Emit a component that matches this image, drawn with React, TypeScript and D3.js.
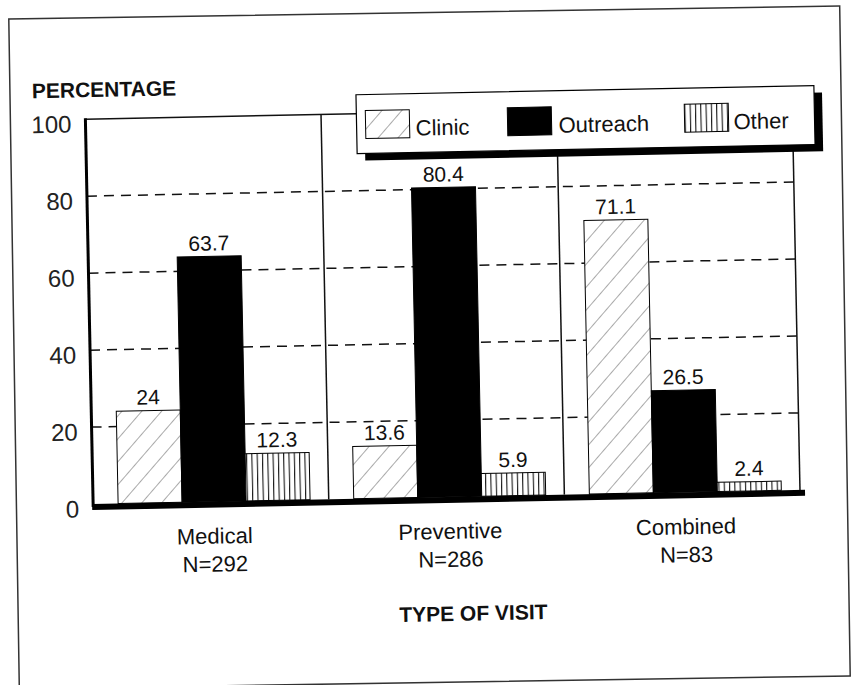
import React from "react";
import * as d3 from "d3";

const categories = ["Medical", "Preventive", "Combined"];
const sampleSizes = ["N=292", "N=286", "N=83"];
const seriesNames = ["Clinic", "Outreach", "Other"];
const clinicValues = [24, 13.6, 71.1];
const outreachValues = [63.7, 80.4, 26.5];
const otherValues = [12.3, 5.9, 2.4];
const yTicks = [0, 20, 40, 60, 80, 100];
const gridTicks = [20, 40, 60, 80];

const W = 851;
const H = 685;
const FONT = "'Liberation Sans', Arial, Helvetica, sans-serif";

const fills: Record<string, string> = {
  Clinic: "url(#hatchDiag)",
  Outreach: "#000",
  Other: "url(#hatchVert)",
};

export default function App() {
  const x0 = d3.scaleBand<string>().domain(categories).range([90, 797]).paddingInner(0).paddingOuter(0);
  const x1 = d3.scaleBand<string>().domain(seriesNames).range([0, 192]);
  const barOffset = 25;
  const y = d3.scaleLinear().domain([0, 100]).range([497, 112]);

  const seriesValues: Record<string, number[]> = {
    Clinic: clinicValues,
    Outreach: outreachValues,
    Other: otherValues,
  };

  const left = x0.range()[0];
  const right = x0.range()[1];

  const bars = categories.flatMap((c, ci) =>
    seriesNames.map((s) => ({
      c,
      s,
      v: seriesValues[s][ci],
      x: (x0(c) as number) + barOffset + (x1(s) as number),
      w: x1.bandwidth(),
    }))
  );

  const legendItems = [
    { s: "Clinic", sx: 370, tx: 420 },
    { s: "Outreach", sx: 512, tx: 563 },
    { s: "Other", sx: 689, tx: 738 },
  ];

  return (
    <svg
      width={W}
      height={H}
      style={{ position: "absolute", left: 0, top: 0, display: "block", background: "#fff" }}
      fontFamily={FONT}
    >
      <defs>
        <pattern id="hatchDiag" patternUnits="userSpaceOnUse" width={15} height={15} patternTransform="rotate(42)">
          <rect width={15} height={15} fill="#fff" />
          <line x1={0} y1={0} x2={0} y2={15} stroke="#555" strokeWidth={1} />
        </pattern>
        <pattern id="hatchVert" patternUnits="userSpaceOnUse" width={5.3} height={10}>
          <rect width={5.3} height={10} fill="#fff" />
          <line x1={0.6} y1={0} x2={0.6} y2={10} stroke="#000" strokeWidth={1} />
        </pattern>
      </defs>
      <rect width={W} height={H} fill="#fff" />

      {/* outer frame */}
      <g transform="rotate(-0.9 429.5 347.5)">
        <rect x={14} y={12.5} width={831} height={670} fill="none" stroke="#333" strokeWidth={1.5} />
      </g>

      <g transform="rotate(-1.15 445 345)">
        {/* dashed grid */}
        {gridTicks.map((t) => (
          <line key={t} x1={left} x2={right} y1={y(t)} y2={y(t)} stroke="#111" strokeWidth={1.5} strokeDasharray="10 7" />
        ))}
        {/* top line */}
        <line x1={left} x2={right} y1={y(100)} y2={y(100)} stroke="#111" strokeWidth={1.5} />
        {/* separators */}
        {categories.slice(1).map((c) => (
          <line key={c} x1={x0(c)} x2={x0(c)} y1={y(100)} y2={y(0)} stroke="#111" strokeWidth={1.5} />
        ))}
        <line x1={right} x2={right} y1={y(100)} y2={y(0)} stroke="#111" strokeWidth={1.5} />

        {/* bars */}
        {bars.map((b) => (
          <g key={b.c + b.s}>
            <rect
              x={b.x}
              y={y(b.v)}
              width={b.w}
              height={y(0) - y(b.v)}
              fill={fills[b.s]}
              stroke="#000"
              strokeWidth={1}
            />
            <text x={b.x + b.w / 2} y={y(b.v) - 6} textAnchor="middle" fontSize={21} fill="#111">
              {String(b.v)}
            </text>
          </g>
        ))}

        {/* axes */}
        <line x1={left} x2={left} y1={y(100) - 1} y2={y(0) + 3} stroke="#000" strokeWidth={3} />
        <line x1={left - 1} x2={right + 5} y1={y(0) + 3} y2={y(0) + 3} stroke="#000" strokeWidth={6} />

        {/* y tick labels */}
        {yTicks.map((t) => (
          <text key={t} x={76} y={y(t) + 13} textAnchor="end" fontSize={24} fill="#222">
            {t}
          </text>
        ))}
        <text x={37} y={90} fontSize={21} fontWeight="bold" fill="#111">
          PERCENTAGE
        </text>

        {/* category labels */}
        {categories.map((c, i) => {
          const cx = (x0(c) as number) + barOffset + 96;
          return (
            <g key={c}>
              <text x={cx} y={539} textAnchor="middle" fontSize={22} fill="#111">
                {c}
              </text>
              <text x={cx} y={567} textAnchor="middle" fontSize={22} fill="#111">
                {sampleSizes[i]}
              </text>
            </g>
          );
        })}
        <text x={468} y={621} textAnchor="middle" fontSize={21} fontWeight="bold" fill="#111">
          TYPE OF VISIT
        </text>

        {/* legend */}
        <rect x={369} y={100} width={458} height={59} fill="#000" />
        <rect x={361} y={93} width={458} height={59} fill="#fff" stroke="#000" strokeWidth={1.2} />
        {legendItems.map((it) => (
          <g key={it.s}>
            <rect x={it.sx} y={109} width={44} height={28} fill={fills[it.s]} stroke="#000" strokeWidth={1} />
            <text x={it.tx} y={135} fontSize={22} fill="#111">
              {it.s}
            </text>
          </g>
        ))}
      </g>
    </svg>
  );
}
